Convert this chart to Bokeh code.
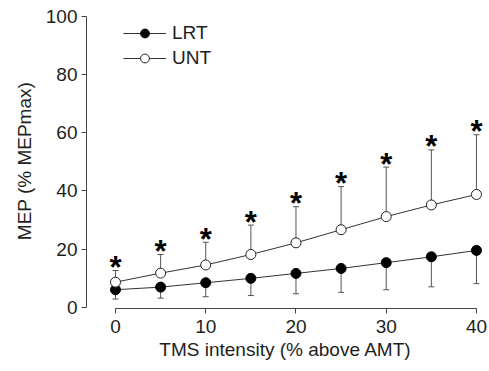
from bokeh.plotting import figure
from bokeh.models import ColumnDataSource, Whisker, TeeHead, Legend, LegendItem, FixedTicker, Range1d
from bokeh.core.properties import value
from bokeh.embed import file_html
from bokeh.resources import INLINE

intensity = [0, 5, 10, 15, 20, 25, 30, 35, 40]
lrt_mean = [6.1, 7.0, 8.5, 10.0, 11.7, 13.4, 15.4, 17.4, 19.6]
lrt_sd = [3.2, 3.8, 4.8, 5.9, 7.0, 8.2, 9.3, 10.3, 11.4]
unt_mean = [8.7, 11.8, 14.6, 18.2, 22.2, 26.7, 31.2, 35.2, 38.8]
unt_sd = [4.0, 6.4, 7.8, 10.1, 12.4, 14.8, 17.0, 18.9, 20.5]
significance = ["*", "*", "*", "*", "*", "*", "*", "*", "*"]
x_ticks = [0, 10, 20, 30, 40]
y_ticks = [0, 20, 40, 60, 80, 100]

src = ColumnDataSource(dict(
    x=intensity,
    lrt=lrt_mean,
    lrt_lo=[m - s for m, s in zip(lrt_mean, lrt_sd)],
    unt=unt_mean,
    unt_hi=[m + s for m, s in zip(unt_mean, unt_sd)],
    star=significance,
))

FONT = "Liberation Sans"
TXT = "#1e1e1e"
AX = "#444444"

p = figure(width=489, height=371, x_range=Range1d(-3.213, 40.89), y_range=Range1d(-0.343, 100.93),
           output_backend="svg", toolbar_location=None,
           min_border_left=86, min_border_right=5, min_border_top=13, min_border_bottom=63)
p.outline_line_color = None
p.xgrid.visible = False
p.ygrid.visible = False

for ax in (p.xaxis[0], p.yaxis[0]):
    ax.major_label_text_font = FONT
    ax.major_label_text_font_size = "19px"
    ax.major_label_text_color = TXT
    ax.axis_label_text_font = FONT
    ax.axis_label_text_font_size = "19px"
    ax.axis_label_text_font_style = "normal"
    ax.axis_label_text_color = TXT
    ax.axis_line_color = AX
    ax.major_tick_line_color = AX
    ax.major_tick_out = 5
    ax.major_tick_in = 0
    ax.minor_tick_line_color = None

p.xaxis.ticker = FixedTicker(ticks=x_ticks)
p.yaxis.ticker = FixedTicker(ticks=y_ticks)
p.xaxis.bounds = (0, 40)
p.yaxis.bounds = (0, 100)
p.xaxis.axis_label = "TMS intensity (% above AMT)"
p.yaxis.axis_label = "MEP (% MEPmax)"
p.xaxis.major_label_standoff = 6
p.xaxis.axis_label_standoff = 3
p.yaxis.major_label_standoff = 4
p.yaxis.axis_label_standoff = 8

EB = "#555555"
p.add_layout(Whisker(source=src, base="x", lower="unt", upper="unt_hi", dimension="height",
                     line_color=EB, line_width=1,
                     upper_head=TeeHead(size=6, line_color=EB, line_width=1), lower_head=None))
p.add_layout(Whisker(source=src, base="x", lower="lrt_lo", upper="lrt", dimension="height",
                     line_color=EB, line_width=1,
                     lower_head=TeeHead(size=6, line_color=EB, line_width=1), upper_head=None))

LN = "#333333"
l1 = p.line("x", "lrt", source=src, line_color=LN, line_width=1)
s1 = p.scatter("x", "lrt", source=src, size=10, fill_color="black", line_color="black", line_width=1)
l2 = p.line("x", "unt", source=src, line_color=LN, line_width=1)
s2 = p.scatter("x", "unt", source=src, size=10, fill_color="white", line_color="#222222", line_width=1)

p.text(x="x", y="unt_hi", text="star", source=src, text_align="center", text_baseline="alphabetic",
       text_font=value(FONT), text_font_style="bold", text_font_size="31px", text_color="black",
       y_offset=-3)

legend = Legend(items=[LegendItem(label="LRT", renderers=[l1, s1]),
                       LegendItem(label="UNT", renderers=[l2, s2])],
                location=(37, 239), glyph_width=43, glyph_height=22, label_height=22,
                label_standoff=6, spacing=3, padding=5, margin=0,
                border_line_color=None, background_fill_alpha=0,
                label_text_font=FONT, label_text_font_size="19px", label_text_color=TXT)
p.add_layout(legend)

open("out.html", "w").write(file_html(p, INLINE))
